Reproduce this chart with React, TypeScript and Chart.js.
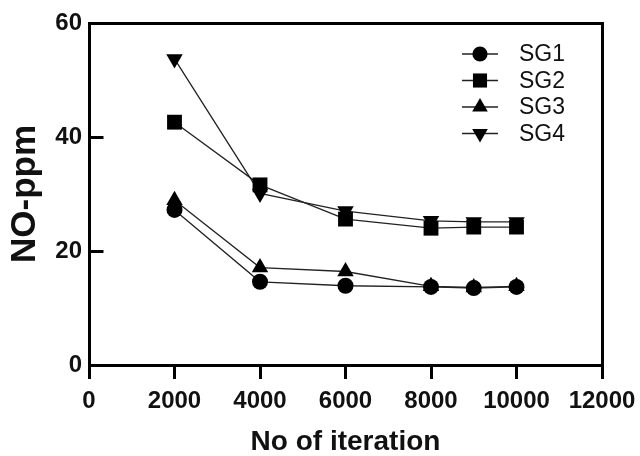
import React, { useEffect, useRef } from 'react';
import { Chart, registerables } from 'chart.js';
import { drawPoint } from 'chart.js/helpers';

Chart.register(...registerables);

// ---- data ----
const iterations = [2000, 4000, 6000, 8000, 9000, 10000];
const sg1 = [27.2, 14.6, 13.9, 13.7, 13.5, 13.7];
const sg2 = [42.6, 31.6, 25.6, 24.0, 24.2, 24.2];
const sg3 = [28.9, 17.1, 16.4, 13.8, 13.6, 13.8];
const sg4 = [53.7, 30.1, 27.0, 25.3, 25.1, 25.1];
const seriesLabels = ['SG1', 'SG2', 'SG3', 'SG4'];
const yTickValues = [0, 20, 40, 60];
const xTitle = 'No of iteration';
const yTitle = 'NO-ppm';

const FONT = '"Liberation Sans", Arial, Helvetica, sans-serif';
const INK = '#111';

const markerStyles = [
  { pointStyle: 'circle', radius: 8, rotation: 0 },
  { pointStyle: 'rect', radius: 10.5, rotation: 0 },
  { pointStyle: 'triangle', radius: 9.5, rotation: 0 },
  { pointStyle: 'triangle', radius: 9.5, rotation: 180 },
];

const framePlugin = {
  id: 'frameAndLegend',
  afterDraw(chart: any) {
    const { ctx, chartArea: a, scales } = chart;
    ctx.save();
    ctx.strokeStyle = '#000';
    ctx.lineWidth = 3;
    ctx.lineJoin = 'miter';
    ctx.lineCap = 'square';
    const top = Math.round(a.top) + 0.5;
    const right = Math.round(a.right) + 0.5;
    const left = Math.round(a.left) + 0.5;
    ctx.beginPath();
    ctx.moveTo(left, top);
    ctx.lineTo(right, top);
    ctx.lineTo(right, a.bottom);
    ctx.stroke();
    // inward y ticks
    ctx.lineCap = 'butt';
    ctx.beginPath();
    for (const v of yTickValues) {
      const y = Math.round(scales.y.getPixelForValue(v)) + 0.5;
      ctx.moveTo(left, y);
      ctx.lineTo(left + 14, y);
    }
    ctx.stroke();

    // legend
    const datasets = chart.data.datasets;
    ctx.font = `23px ${FONT}`;
    ctx.textBaseline = 'middle';
    ctx.textAlign = 'left';
    datasets.forEach((ds: any, i: number) => {
      const y = a.top + 31 + i * 26.5;
      const x0 = a.right - 140;
      const x1 = a.right - 104;
      const xm = (x0 + x1) / 2;
      ctx.strokeStyle = '#222';
      ctx.lineWidth = 1.4;
      ctx.beginPath();
      ctx.moveTo(x0, y);
      ctx.lineTo(x1, y);
      ctx.stroke();
      ctx.fillStyle = '#000';
      ctx.strokeStyle = '#000';
      const m = markerStyles[i];
      drawPoint(ctx, { pointStyle: m.pointStyle, radius: m.radius * 0.95, rotation: m.rotation, borderWidth: 0 } as any, xm, y);
      ctx.fillStyle = INK;
      ctx.fillText(ds.label, a.right - 83, y + 1);
    });
    ctx.restore();
  },
};

export default function App() {
  const ref = useRef<HTMLCanvasElement>(null);
  useEffect(() => {
    document.body.style.margin = '0';
    const canvas = ref.current!;
    const seriesValues = [sg1, sg2, sg3, sg4];
    const chart = new Chart(canvas, {
      type: 'line',
      data: {
        datasets: seriesValues.map((vals, i) => ({
          label: seriesLabels[i],
          data: iterations.map((x, j) => ({ x, y: vals[j] })),
          borderColor: '#222',
          borderWidth: 1.3,
          backgroundColor: '#000',
          pointBackgroundColor: '#000',
          pointBorderColor: '#000',
          pointBorderWidth: 0,
          pointStyle: markerStyles[i].pointStyle as any,
          pointRadius: markerStyles[i].radius,
          pointRotation: markerStyles[i].rotation,
          tension: 0,
          fill: false,
        })),
      },
      options: {
        animation: false,
        responsive: false,
        maintainAspectRatio: false,
        layout: { padding: { top: 23, right: 38, left: 0, bottom: 0 } },
        plugins: {
          legend: { display: false },
          tooltip: { enabled: false },
        },
        scales: {
          x: {
            type: 'linear',
            min: 0,
            max: 12000,
            afterFit: (s: any) => {
              s.height = 91;
              s.paddingRight = 0;
              s.paddingLeft = 0;
            },
            ticks: {
              stepSize: 2000,
              autoSkip: false,
              maxRotation: 0,
              padding: 10,
              color: INK,
              callback: (v: any) => String(v),
              font: { family: FONT, size: 24, weight: 'bold', lineHeight: 1 },
            },
            grid: {
              drawOnChartArea: false,
              drawTicks: true,
              tickLength: 14,
              lineWidth: 3,
              color: '#000',
            },
            border: { display: true, width: 3, color: '#000' },
            title: {
              display: true,
              text: xTitle,
              color: INK,
              font: { family: FONT, size: 28, weight: 'bold', lineHeight: 1 },
              padding: { top: 0, bottom: 0 },
            },
          },
          y: {
            type: 'linear',
            min: 0,
            max: 60,
            afterFit: (s: any) => {
              s.width = 89;
              s.paddingTop = 0;
              s.paddingBottom = 0;
            },
            ticks: {
              stepSize: 20,
              padding: 7,
              color: INK,
              callback: (v: any) => String(v),
              font: { family: FONT, size: 24, weight: 'bold', lineHeight: 1 },
            },
            grid: { drawOnChartArea: false, drawTicks: false },
            border: { display: true, width: 3, color: '#000' },
            title: {
              display: true,
              text: yTitle,
              color: INK,
              font: { family: FONT, size: 35, weight: 'bold', lineHeight: 1 },
              padding: { top: 7.5, bottom: 0 },
            },
          },
        },
      },
      plugins: [framePlugin],
    });
    return () => chart.destroy();
  }, []);
  return <canvas ref={ref} width={640} height={456} style={{ display: 'block' }} />;
}
